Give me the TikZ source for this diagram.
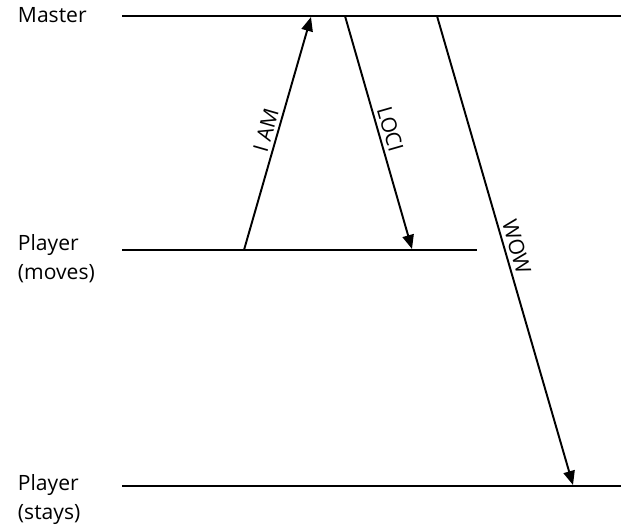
\documentclass[tikz,border=0pt]{standalone}
\usepackage{fontspec}
\setmainfont{Open Sans}
\usepackage{tikz}
\usetikzlibrary{arrows.meta, positioning}

\begin{document}
\begin{tikzpicture}[
    x=0.02cm, y=-0.02cm,
    every path/.style={line width=1.1pt},
    >={Triangle[length=8pt, width=6.5pt]}
]
    \tikzset{
        rolle/.style={anchor=north west, inner sep=0pt, align=left,
                      font=\fontsize{12}{16}\selectfont},
        nachricht/.style={midway, sloped, above, inner sep=2pt,
                      font=\fontsize{12}{14}\selectfont}
    }
    \useasboundingbox (0,0) rectangle (630,527);

    % Rollen
    \node[rolle, anchor=base west] (master) at (17,23)  {Master};
    \node[rolle] (moves) at (17,234) {Player\\(moves)};
    \node[rolle] (stays) at (17,474) {Player\\(stays)};

    % Zeitlinien
    \coordinate (m0) at (122,16);  \coordinate (m1) at (621,16);
    \coordinate (p0) at (122,250); \coordinate (p1) at (477,250);
    \coordinate (s0) at (122,486); \coordinate (s1) at (621,486);
    \draw (m0) -- (m1);
    \draw (p0) -- (p1);
    \draw (s0) -- (s1);

    % Nachrichten
    \coordinate (iam0)  at (244,250); \coordinate (iam1)  at (311,17);
    \coordinate (loci0) at (345,16);  \coordinate (loci1) at (412,249);
    \coordinate (wow0)  at (437,16);  \coordinate (wow1)  at (573,485);
    \draw[->] (iam0)  -- node[nachricht] {I AM} (iam1);
    \draw[->] (loci0) -- node[nachricht] {LOCI} (loci1);
    \draw[->] (wow0)  -- node[nachricht] {WOW}  (wow1);
\end{tikzpicture}
\end{document}
